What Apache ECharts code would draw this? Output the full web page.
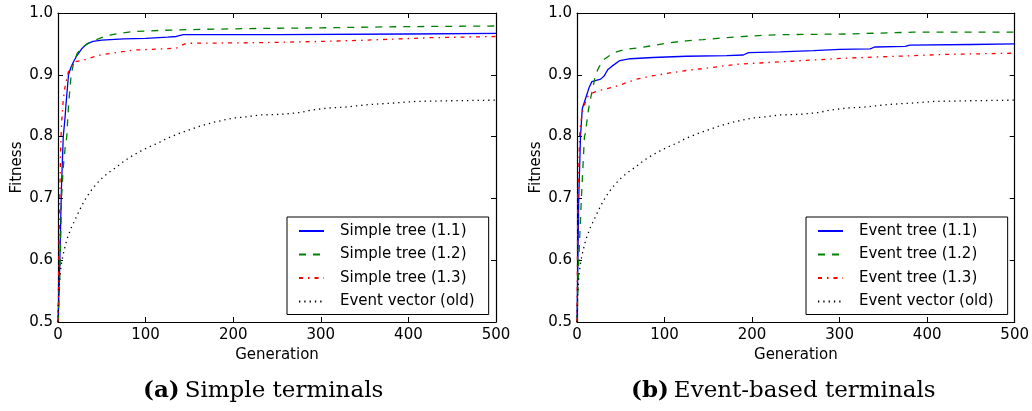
<!DOCTYPE html>
<html>
<head>
<meta charset="utf-8">
<script src="https://cdn.jsdelivr.net/npm/echarts/dist/echarts.min.js"></script>
<style>
html,body{margin:0;padding:0;background:#fff;}
#chart{width:1032px;height:411px;}
</style>
</head>
<body>
<div id="chart"></div>
<script>
// ---- data: [generation, fitness] ----
const xTicks = [0, 100, 200, 300, 400, 500];
const yTicks = [0.5, 0.6, 0.7, 0.8, 0.9, 1.0];

const simpleTree11 = [[0,0.5],[1,0.55],[2,0.59],[3,0.66],[4,0.72],[5,0.76],[6,0.8],[8,0.83],[9,0.85],[12,0.9],[15,0.913],[18,0.922],[22,0.932],[27,0.942],[33,0.95],[40,0.954],[50,0.956],[75,0.958],[100,0.959],[125,0.961],[135,0.962],[143,0.965],[250,0.965],[400,0.966],[500,0.967]];
const simpleTree12 = [[0,0.5],[1,0.53],[2,0.57],[3,0.63],[4,0.7],[6,0.75],[8,0.78],[10,0.8],[12,0.85],[15,0.9],[18,0.92],[22,0.935],[25,0.94],[30,0.947],[36,0.952],[42,0.956],[55,0.963],[70,0.967],[86,0.97],[120,0.972],[162,0.9735],[230,0.975],[300,0.976],[400,0.978],[500,0.979]];
const simpleTree13 = [[0,0.5],[1,0.6],[2,0.7],[3,0.78],[4,0.82],[6,0.86],[8,0.88],[10,0.895],[12,0.905],[16,0.915],[19,0.921],[27,0.923],[48,0.932],[86,0.94],[135,0.943],[140,0.947],[147,0.951],[230,0.952],[300,0.954],[350,0.956],[425,0.96],[500,0.962]];
const eventVectorOld = [[0,0.5],[1,0.55],[2,0.57],[3,0.585],[4,0.595],[6,0.61],[10,0.633],[15,0.652],[21,0.67],[27,0.688],[33,0.703],[40,0.717],[48,0.73],[57,0.741],[67,0.751],[76,0.761],[86,0.77],[95,0.777],[105,0.784],[115,0.79],[124,0.797],[140,0.806],[162,0.817],[180,0.824],[200,0.83],[215,0.832],[231,0.835],[255,0.836],[276,0.839],[290,0.843],[307,0.846],[330,0.848],[356,0.852],[380,0.854],[409,0.857],[450,0.858],[500,0.859]];
const eventTree11 = [[0,0.5],[1,0.6],[2,0.7],[4,0.8],[6,0.845],[11,0.867],[14,0.88],[17,0.889],[22,0.891],[27,0.893],[31,0.898],[35,0.908],[40,0.914],[49,0.923],[61,0.926],[87,0.928],[125,0.93],[171,0.931],[190,0.932],[196,0.936],[232,0.937],[270,0.939],[300,0.941],[335,0.942],[340,0.945],[375,0.946],[380,0.948],[450,0.949],[500,0.95]];
const eventTree12 = [[0,0.5],[1,0.55],[2,0.6],[5,0.7],[8.5,0.8],[9.5,0.805],[13,0.843],[16,0.865],[19,0.885],[21,0.9],[25,0.912],[30,0.924],[38,0.932],[45,0.937],[55,0.941],[72,0.944],[90,0.948],[106,0.952],[125,0.955],[144,0.957],[170,0.96],[201,0.963],[232,0.965],[308,0.966],[384,0.969],[500,0.969]];
const eventTree13 = [[0,0.5],[1,0.7],[3,0.8],[4,0.821],[7.5,0.848],[13,0.867],[20,0.872],[27,0.875],[46,0.882],[68,0.893],[85,0.898],[106,0.903],[125,0.907],[144,0.91],[182,0.917],[232,0.921],[270,0.924],[308,0.927],[346,0.929],[384,0.931],[420,0.933],[460,0.934],[500,0.935]];

const namesA = ['Simple tree (1.1)', 'Simple tree (1.2)', 'Simple tree (1.3)', 'Event vector (old)'];
const namesB = ['Event tree (1.1)', 'Event tree (1.2)', 'Event tree (1.3)', 'Event vector (old)'];
const captionA = ['(a)', 'Simple terminals'];
const captionB = ['(b)', 'Event-based terminals'];

// ---- styles ----
const FONT = 'DejaVu Sans';
const SERIF = 'DejaVu Serif';
const styles = [
  {color: '#0000ff', type: 'solid'},
  {color: '#008000', type: [7, 7]},
  {color: '#ff0000', type: [4, 5, 1.5, 5]},
  {color: '#000000', type: [1.3, 4]}
];

function xAx(grid, pos, labels) {
  return {
    type: 'value', gridIndex: grid, position: pos, min: 0, max: 500, interval: 100,
    name: labels ? 'Generation' : '', nameLocation: 'middle', nameGap: 26,
    nameTextStyle: {fontFamily: FONT, fontSize: 15, color: '#000'},
    axisLine: {show: true, onZero: false, lineStyle: {color: '#000', width: 1.2}},
    axisTick: {show: true, inside: true, length: 5, lineStyle: {color: '#000'}},
    axisLabel: {show: labels, fontFamily: FONT, fontSize: 15, color: '#000', margin: 6},
    splitLine: {show: false}
  };
}
function yAx(grid, pos, labels) {
  return {
    type: 'value', gridIndex: grid, position: pos, min: 0.5, max: 1.0, interval: 0.1,
    name: labels ? 'Fitness' : '', nameLocation: 'middle', nameGap: 33, nameRotate: 90,
    nameTextStyle: {fontFamily: FONT, fontSize: 15, color: '#000'},
    axisLine: {show: true, onZero: false, lineStyle: {color: '#000', width: 1.2}},
    axisTick: {show: true, inside: true, length: 5, lineStyle: {color: '#000'}},
    axisLabel: {show: labels, fontFamily: FONT, fontSize: 15, color: '#000', margin: 5,
      formatter: v => v.toFixed(1)},
    splitLine: {show: false}
  };
}

function mkSeries(name, data, idx, axisIdx) {
  return {
    type: 'line', name: name, data: data, xAxisIndex: axisIdx, yAxisIndex: axisIdx,
    symbol: 'none', showSymbol: false, silent: true, animation: false,
    lineStyle: {color: styles[idx].color, width: 1.3, type: styles[idx].type},
    itemStyle: {color: styles[idx].color}
  };
}

const seriesA = [simpleTree11, simpleTree12, simpleTree13, eventVectorOld];
const seriesB = [eventTree11, eventTree12, eventTree13, eventVectorOld];

function legend(names, left) {
  return {
    data: names, orient: 'vertical', left: left, top: 217,
    itemWidth: 25, itemHeight: 16, itemGap: 7.5,
    padding: [6, 14, 5, 11],
    borderColor: '#000', borderWidth: 1, backgroundColor: '#fff',
    selectedMode: false,
    itemStyle: {opacity: 0, color: 'rgba(0,0,0,0)', borderColor: 'rgba(0,0,0,0)', borderWidth: 0},
    textStyle: {fontFamily: FONT, fontSize: 15, color: '#000', padding: [0, 0, 0, 11], lineHeight: 16}
  };
}

function caption(parts, left) {
  return {
    text: '{b|' + parts[0] + '} {n|' + parts[1] + '}', left: left, top: 375,
    textStyle: {fontWeight: 'normal', rich: {
      b: {fontFamily: SERIF, fontWeight: 'bold', fontSize: 23, color: '#000'},
      n: {fontFamily: SERIF, fontWeight: 'normal', fontSize: 23, color: '#000'}}}
  };
}

const chart = echarts.init(document.getElementById('chart'), null, {renderer: 'canvas'});
chart.setOption({
  animation: false,
  backgroundColor: '#fff',
  grid: [
    {left: 58, right: 536, top: 13, bottom: 89},
    {left: 577, right: 17, top: 13, bottom: 89}
  ],
  xAxis: [xAx(0, 'bottom', true), xAx(0, 'top', false), xAx(1, 'bottom', true), xAx(1, 'top', false)],
  yAxis: [yAx(0, 'left', true), yAx(0, 'right', false), yAx(1, 'left', true), yAx(1, 'right', false)],
  legend: [legend(namesA, 287), legend(namesB, 806)],
  title: [caption(captionA, 138), caption(captionB, 626)],
  series: [
    ...seriesA.map((d, i) => mkSeries(namesA[i], d, i, 0)),
    ...seriesB.map((d, i) => mkSeries(namesB[i], d, i, 2))
  ]
});
</script>
</body>
</html>
